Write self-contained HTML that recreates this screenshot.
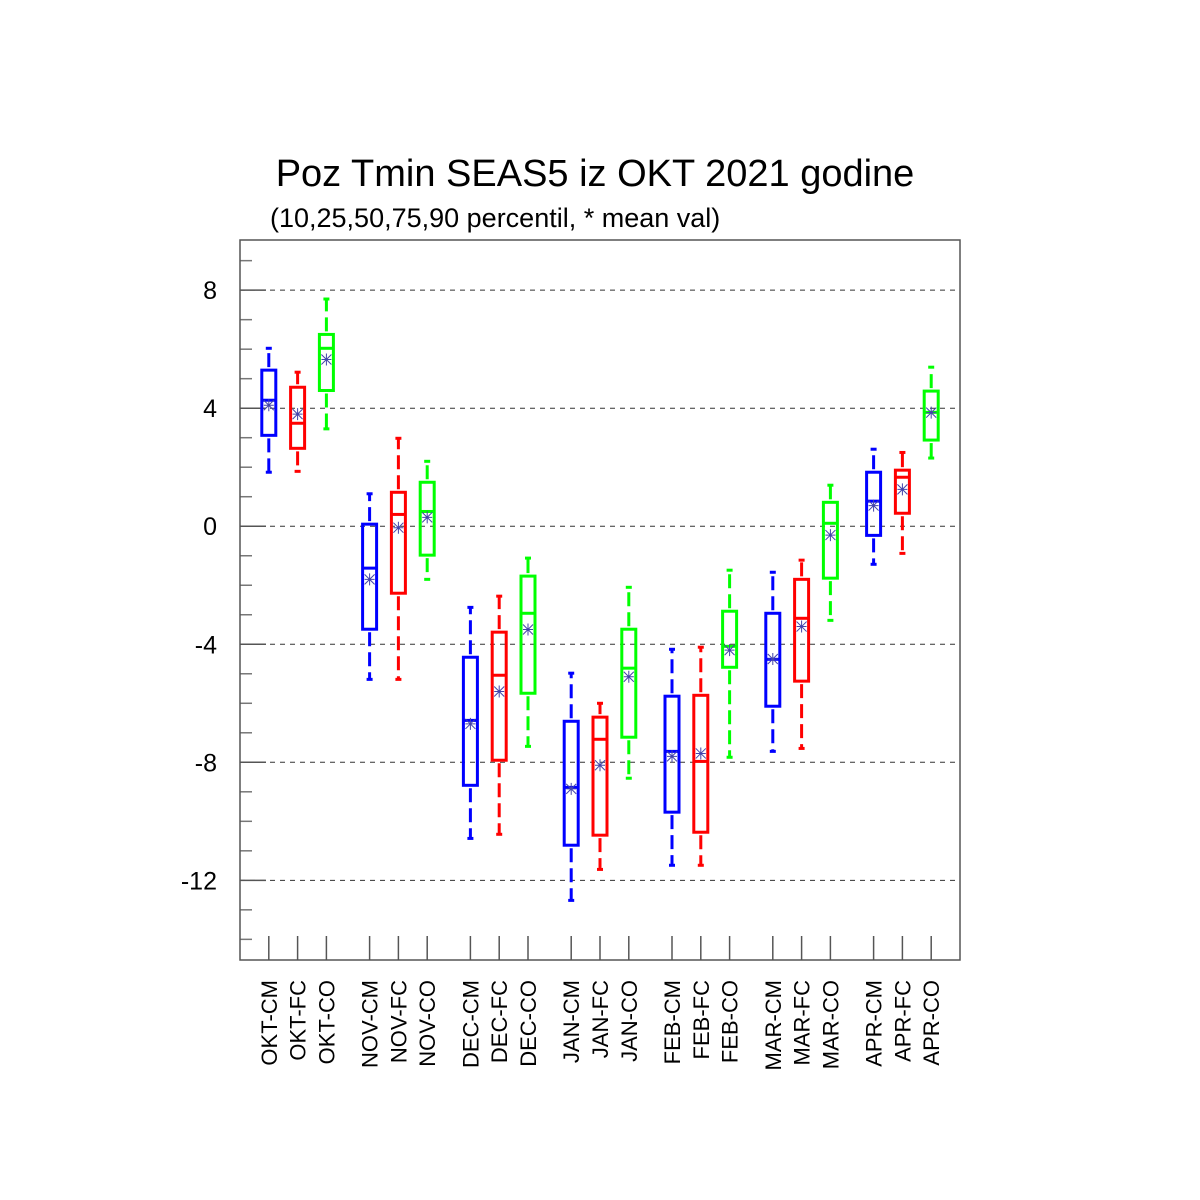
<!DOCTYPE html>
<html><head><meta charset="utf-8"><style>
html,body{margin:0;padding:0;background:#fff;}
svg{display:block;font-family:"Liberation Sans",sans-serif;}
</style></head><body>
<svg id="chart" width="1200" height="1200" viewBox="0 0 1200 1200">
<text x="595" y="186" font-size="38" text-anchor="middle">Poz Tmin SEAS5 iz OKT 2021 godine</text>
<text x="270" y="227" font-size="27">(10,25,50,75,90 percentil, * mean val)</text>
<g id="grid"></g>
<g id="axes"></g>
<g id="boxes"></g>
<rect x="240" y="240" width="720" height="720" fill="none" stroke="#555" stroke-width="1.5"/>
</svg>
<script>
const categories=["OKT-CM","OKT-FC","OKT-CO","NOV-CM","NOV-FC","NOV-CO","DEC-CM","DEC-FC","DEC-CO","JAN-CM","JAN-FC","JAN-CO","FEB-CM","FEB-FC","FEB-CO","MAR-CM","MAR-FC","MAR-CO","APR-CM","APR-FC","APR-CO"];
const xIndex=[2,4,6,9,11,13,16,18,20,23,25,27,30,32,34,37,39,41,44,46,48];
const p10=[1.83,1.86,3.3,-5.19,-5.19,-1.8,-10.58,-10.44,-7.46,-12.68,-11.63,-8.54,-11.49,-11.49,-7.83,-7.63,-7.53,-3.19,-1.29,-0.92,2.31];
const p25=[3.08,2.64,4.6,-3.49,-2.27,-0.98,-8.78,-7.93,-5.66,-10.81,-10.47,-7.15,-9.69,-10.37,-4.78,-6.1,-5.25,-1.76,-0.31,0.44,2.92];
const p50=[4.27,3.49,6.03,-1.42,0.4,0.5,-6.58,-5.05,-2.95,-8.85,-7.22,-4.81,-7.63,-7.97,-4.07,-4.51,-3.12,0.1,0.85,1.66,3.86];
const p75=[5.29,4.71,6.5,0.07,1.15,1.49,-4.44,-3.59,-1.69,-6.61,-6.47,-3.49,-5.76,-5.73,-2.88,-2.95,-1.8,0.81,1.83,1.9,4.58];
const p90=[6.03,5.22,7.7,1.1,2.98,2.2,-2.75,-2.37,-1.08,-4.98,-6.0,-2.07,-4.17,-4.1,-1.49,-1.56,-1.15,1.39,2.61,2.5,5.39];
const means=[4.1,3.8,5.65,-1.8,-0.05,0.3,-6.7,-5.6,-3.5,-8.9,-8.1,-5.1,-7.8,-7.7,-4.2,-4.5,-3.4,-0.3,0.7,1.25,3.85];
const yTicks=[-12,-8,-4,0,4,8];
const colors=["#0000ff","#ff0000","#00ff00"];
const X0=240,X1=960,Y0=960,Y1=240,XMIN=0,XMAX=50,YMIN=-14.7,YMAX=9.7;
const sx=v=>X0+(v-XMIN)/(XMAX-XMIN)*(X1-X0);
const sy=v=>Y0-(v-YMIN)/(YMAX-YMIN)*(Y0-Y1);
const NS="http://www.w3.org/2000/svg";
function mk(tag,attrs,parent){const e=document.createElementNS(NS,tag);for(const k in attrs)e.setAttribute(k,attrs[k]);parent.appendChild(e);return e;}
const grid=document.getElementById('grid'),axes=document.getElementById('axes'),boxes=document.getElementById('boxes');
for(const t of yTicks){
  const y=sy(t);
  const g=mk('line',{x1:X0,x2:X1,y1:y,y2:y,stroke:'#333','stroke-width':1,'stroke-dasharray':'5 5'},grid);
  
  
  const tk=mk('line',{x1:X0,x2:X0+26,y1:y,y2:y,stroke:'#555','stroke-width':1.5},axes);
  
  
  const tx=mk('text',{x:217,y:y+9,'font-size':25,'text-anchor':'end'},axes);
  tx.textContent=String(t);
  
  
}
for(let v=-14;v<=9;v++){
  if(yTicks.includes(v))continue;
  const y=sy(v);
  const tk=mk('line',{x1:X0,x2:X0+12,y1:y,y2:y,stroke:'#777','stroke-width':1.5},axes);
  
  
}
categories.forEach((c,i)=>{
  const x=sx(xIndex[i]);
  const tk=mk('line',{x1:x,x2:x,y1:Y0,y2:Y0-24,stroke:'#555','stroke-width':1.5},axes);
  
  
  const tx=mk('text',{x:0,y:0,'font-size':22,'text-anchor':'end',transform:`translate(${x+8},980) rotate(-90)`},axes);
  tx.textContent=c;
  
  
  const col=colors[i%3];
  const g=mk('g',{},boxes);
  
  
  const w=7;
  const wu=mk('line',{x1:x,x2:x,y1:sy(p75[i])-3,y2:sy(p90[i]),stroke:col,'stroke-width':3,'stroke-dasharray':'14 6'},g);
  
  
  const wl=mk('line',{x1:x,x2:x,y1:sy(p25[i])+3,y2:sy(p10[i]),stroke:col,'stroke-width':3,'stroke-dasharray':'14 6'},g);
  
  
  const cu=mk('line',{x1:x-3,x2:x+3,y1:sy(p90[i]),y2:sy(p90[i]),stroke:col,'stroke-width':3},g);
  
  
  const cl=mk('line',{x1:x-3,x2:x+3,y1:sy(p10[i]),y2:sy(p10[i]),stroke:col,'stroke-width':3},g);
  
  
  const r=mk('rect',{x:x-w,y:sy(p75[i]),width:2*w,height:sy(p25[i])-sy(p75[i]),fill:'none',stroke:col,'stroke-width':3},g);
  
  
  const m=mk('line',{x1:x-w,x2:x+w,y1:sy(p50[i]),y2:sy(p50[i]),stroke:col,'stroke-width':3},g);
  
  
  const my=sy(means[i]);
  const mm=mk('path',{d:`M${x-5} ${my}H${x+5}M${x} ${my-6}V${my+6}M${x-5} ${my-5}L${x+5} ${my+5}M${x-5} ${my+5}L${x+5} ${my-5}`,stroke:'#4444aa','stroke-width':1},g);
  
  
});
</script>
</body></html>
